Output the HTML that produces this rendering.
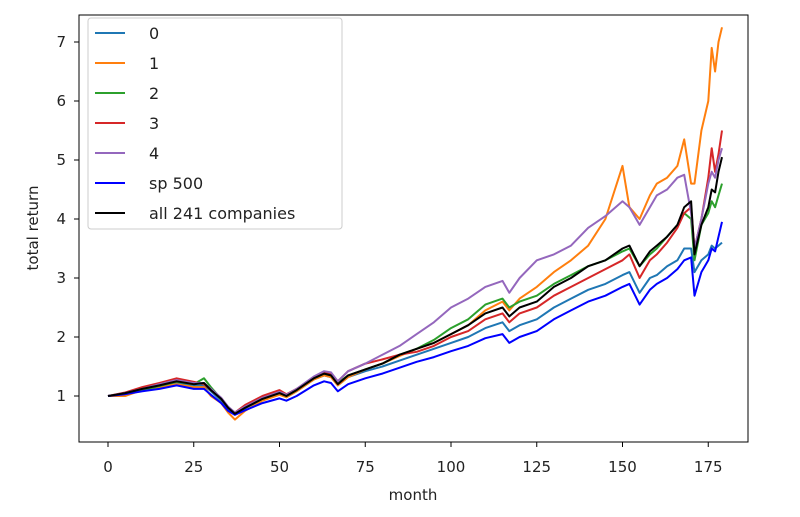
<!DOCTYPE html>
<html><head><meta charset="utf-8"><style>
body{margin:0;background:#fff;}
svg{display:block;font-family:"DejaVu Sans","Liberation Sans",sans-serif;}
</style></head><body>
<svg id="chart" width="800" height="517" viewBox="0 0 800 517"></svg>
<script>
const months=[0,5,10,15,20,25,28,30,33,35,37,40,45,50,52,55,60,63,65,67,70,75,80,85,90,95,100,105,110,115,117,120,125,130,135,140,145,150,152,155,158,160,163,166,168,170,171,173,175,176,177,178,179];
const s0=[1.0,1.04,1.1,1.15,1.22,1.17,1.18,1.08,0.92,0.78,0.7,0.8,0.94,1.03,0.98,1.08,1.28,1.35,1.32,1.18,1.32,1.42,1.5,1.6,1.7,1.8,1.9,2.0,2.15,2.25,2.1,2.2,2.3,2.5,2.65,2.8,2.9,3.05,3.1,2.75,3.0,3.05,3.2,3.3,3.5,3.5,3.1,3.3,3.4,3.55,3.5,3.55,3.6];
const s1=[1.0,1.0,1.1,1.15,1.2,1.15,1.15,1.0,0.88,0.72,0.6,0.75,0.92,1.02,0.98,1.08,1.28,1.35,1.32,1.18,1.32,1.45,1.55,1.68,1.8,1.9,2.05,2.2,2.45,2.6,2.45,2.65,2.85,3.1,3.3,3.55,4.0,4.9,4.2,4.0,4.4,4.6,4.7,4.9,5.35,4.6,4.6,5.5,6.0,6.9,6.5,7.0,7.25];
const s2=[1.0,1.04,1.1,1.17,1.24,1.2,1.3,1.15,0.95,0.8,0.7,0.8,0.95,1.05,1.0,1.1,1.3,1.38,1.35,1.22,1.35,1.45,1.55,1.7,1.8,1.95,2.15,2.3,2.55,2.65,2.5,2.6,2.7,2.9,3.05,3.2,3.3,3.45,3.5,3.2,3.4,3.5,3.7,3.9,4.1,4.0,3.3,3.9,4.1,4.3,4.2,4.4,4.6];
const s3=[1.0,1.06,1.15,1.22,1.3,1.24,1.2,1.1,0.95,0.8,0.72,0.85,1.0,1.1,1.03,1.12,1.3,1.4,1.38,1.25,1.42,1.55,1.62,1.7,1.75,1.85,2.0,2.1,2.3,2.4,2.25,2.4,2.5,2.7,2.85,3.0,3.15,3.3,3.4,3.0,3.3,3.4,3.6,3.85,4.1,4.2,3.5,4.0,4.7,5.2,4.8,5.1,5.5];
const s4=[1.0,1.05,1.12,1.2,1.27,1.22,1.22,1.12,0.97,0.82,0.72,0.82,0.97,1.07,1.02,1.12,1.33,1.42,1.4,1.25,1.42,1.55,1.7,1.85,2.05,2.25,2.5,2.65,2.85,2.95,2.75,3.0,3.3,3.4,3.55,3.85,4.05,4.3,4.2,3.9,4.2,4.4,4.5,4.7,4.75,4.1,3.5,4.0,4.6,4.8,4.7,5.0,5.2];
const sp=[1.0,1.03,1.08,1.12,1.18,1.12,1.12,1.02,0.88,0.75,0.68,0.76,0.88,0.96,0.92,1.0,1.18,1.25,1.22,1.08,1.2,1.3,1.38,1.48,1.58,1.66,1.76,1.85,1.98,2.05,1.9,2.0,2.1,2.3,2.45,2.6,2.7,2.85,2.9,2.55,2.8,2.9,3.0,3.15,3.3,3.35,2.7,3.1,3.3,3.5,3.45,3.7,3.95];
const allCo=[1.0,1.05,1.12,1.18,1.25,1.2,1.22,1.1,0.95,0.8,0.7,0.8,0.95,1.05,1.0,1.1,1.3,1.38,1.35,1.2,1.35,1.45,1.55,1.7,1.8,1.9,2.05,2.2,2.4,2.5,2.35,2.5,2.6,2.85,3.0,3.2,3.3,3.5,3.55,3.2,3.45,3.55,3.7,3.9,4.2,4.3,3.4,3.9,4.2,4.5,4.45,4.8,5.05];
const seriesNames=["0","1","2","3","4","sp 500","all 241 companies"];
const xTicks=[0,25,50,75,100,125,150,175];
const yTicks=[1,2,3,4,5,6,7];

const NS="http://www.w3.org/2000/svg";
const svg=document.getElementById('chart');
const X=m=>108+m*3.43;
const Y=v=>396-(v-1)*59;
function mk(t,a,p){const e=document.createElementNS(NS,t);for(const k in a)e.setAttribute(k,a[k]);(p||svg).appendChild(e);return e;}
const series=[s0,s1,s2,s3,s4,sp,allCo];
const colors=["#1f77b4","#ff7f0e","#2ca02c","#d62728","#9467bd","#0000ff","#000000"];
series.forEach((s,i)=>{
  const d=s.map((v,j)=>(j?'L':'M')+X(months[j]).toFixed(1)+' '+Y(v).toFixed(1)).join(' ');
  const p=mk('path',{d:d,fill:'none',stroke:colors[i],'stroke-width':2,'stroke-linejoin':'round'});
  
  
});
const frame=mk('rect',{x:79,y:15,width:669,height:427,fill:'none',stroke:'#000','stroke-width':1});


xTicks.forEach(t=>{
  mk('line',{x1:X(t),x2:X(t),y1:442,y2:447,stroke:'#000'});
  const tx=mk('text',{x:X(t),y:472,'text-anchor':'middle','font-size':15,fill:'#222'});
  tx.textContent=t;
  
  
});
yTicks.forEach(t=>{
  mk('line',{x1:74,x2:79,y1:Y(t),y2:Y(t),stroke:'#000'});
  const tx=mk('text',{x:66,y:Y(t)+5,'text-anchor':'end','font-size':15,fill:'#222'});
  tx.textContent=t;
  
  
});
const xt=mk('text',{x:413,y:500,'text-anchor':'middle','font-size':15,fill:'#222'});
xt.textContent='month';


const yt=mk('text',{x:38,y:228,'text-anchor':'middle','font-size':15,fill:'#222',transform:'rotate(-90 38 228)'});
yt.textContent='total return';


const lg=mk('g',{});


mk('rect',{x:88,y:18,width:254,height:211,rx:3,fill:'#fff','fill-opacity':0.85,stroke:'#ccc'},lg);
seriesNames.forEach((n,i)=>{
  const y=33+i*30;
  const g=mk('g',{},lg);
  
  
  mk('line',{x1:95,x2:125,y1:y,y2:y,stroke:colors[i],'stroke-width':2},g);
  const t=mk('text',{x:149,y:y+6,'font-size':16,fill:'#222'},g);
  t.textContent=n;
});
</script>
</body></html>
